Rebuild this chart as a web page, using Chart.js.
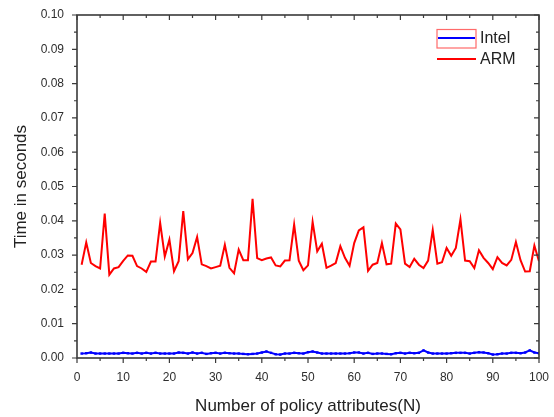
<!DOCTYPE html>
<html>
<head>
<meta charset="utf-8">
<script src="https://cdn.jsdelivr.net/npm/chart.js@4/dist/chart.umd.min.js"></script>
<style>
  html, body { margin: 0; padding: 0; background: #ffffff; }
  #wrap { width: 554px; height: 417px; }
</style>
</head>
<body>
<div id="wrap"><canvas id="c" width="554" height="417"></canvas></div>
<script>
// ---- data ----
const attributes = Array.from({ length: 100 }, (_, i) => i + 1); // N = 1..100
const intelTimes = [
  0.0013, 0.0014, 0.0016, 0.0013, 0.0013, 0.0013, 0.0013, 0.0013, 0.0013, 0.0015,
  0.0014, 0.0013, 0.0015, 0.0013, 0.0015, 0.0013, 0.0015, 0.0013, 0.0013, 0.0013,
  0.0013, 0.0016, 0.0015, 0.0013, 0.0016, 0.0013, 0.0015, 0.0012, 0.0014, 0.0015,
  0.0013, 0.0015, 0.0014, 0.0013, 0.0013, 0.0012, 0.0011, 0.0012, 0.0013, 0.0016,
  0.0019, 0.0015, 0.0011, 0.0010, 0.0013, 0.0013, 0.0015, 0.0014, 0.0013, 0.0017,
  0.0019, 0.0016, 0.0013, 0.0013, 0.0013, 0.0013, 0.0013, 0.0013, 0.0014, 0.0016,
  0.0016, 0.0013, 0.0015, 0.0012, 0.0013, 0.0013, 0.0012, 0.0011, 0.0014, 0.0015,
  0.0013, 0.0015, 0.0014, 0.0015, 0.0022, 0.0016, 0.0013, 0.0013, 0.0013, 0.0013,
  0.0014, 0.0015, 0.0015, 0.0015, 0.0013, 0.0015, 0.0017, 0.0016, 0.0014, 0.0010,
  0.0011, 0.0013, 0.0013, 0.0015, 0.0015, 0.0014, 0.0016, 0.0022, 0.0016, 0.0014
];
const armTimes = [
  0.0272, 0.0337, 0.0277, 0.0268, 0.0261, 0.0421, 0.0243, 0.0261, 0.0265, 0.0283,
  0.0299, 0.0298, 0.0268, 0.0261, 0.0251, 0.0281, 0.0281, 0.0394, 0.0296, 0.0345,
  0.0253, 0.0282, 0.0428, 0.0288, 0.0306, 0.0353, 0.0273, 0.0268, 0.0261, 0.0265,
  0.0269, 0.0330, 0.0263, 0.0247, 0.0316, 0.0285, 0.0285, 0.0464, 0.0291, 0.0285,
  0.0290, 0.0293, 0.0270, 0.0267, 0.0284, 0.0285, 0.0389, 0.0284, 0.0256, 0.0270,
  0.0397, 0.0311, 0.0333, 0.0263, 0.0269, 0.0277, 0.0326, 0.0292, 0.0269, 0.0335,
  0.0372, 0.0381, 0.0254, 0.0272, 0.0277, 0.0335, 0.0273, 0.0275, 0.0392, 0.0375,
  0.0275, 0.0265, 0.0289, 0.0272, 0.0262, 0.0284, 0.0373, 0.0275, 0.0279, 0.0321,
  0.0298, 0.0321, 0.0404, 0.0284, 0.0282, 0.0262, 0.0314, 0.0292, 0.0277, 0.0259,
  0.0294, 0.0277, 0.0270, 0.0286, 0.0338, 0.0285, 0.0252, 0.0253, 0.0328, 0.0282
];
const seriesNames = ['Intel', 'ARM'];
const xTickValues = [0, 10, 20, 30, 40, 50, 60, 70, 80, 90, 100];
const yTickValues = [0.00, 0.01, 0.02, 0.03, 0.04, 0.05, 0.06, 0.07, 0.08, 0.09, 0.10];
const xTitle = 'Number of policy attributes(N)';
const yTitle = 'Time in seconds';

// ---- styling ----
const FONT = "'Liberation Sans', Arial, sans-serif";
const AXIS_COLOR = '#3a3a3a';
const TEXT_COLOR = '#2e2e2e';

const toPoints = (vals) => vals.map((v, i) => ({ x: attributes[i], y: v }));

// frame, tick marks and legend drawn with the library's scales
const framePlugin = {
  id: 'frame',
  afterDraw(chart) {
    const { ctx, chartArea: a, scales } = chart;
    const xs = scales.x, ys = scales.y;
    ctx.save();
    ctx.strokeStyle = AXIS_COLOR;
    ctx.lineWidth = 1.6;
    ctx.strokeRect(a.left, a.top, a.right - a.left, a.bottom - a.top);
    ctx.lineWidth = 1.2;
    ctx.beginPath();
    for (let i = 0; i < xTickValues.length; i++) {
      const v = xTickValues[i];
      const px = xs.getPixelForValue(v);
      ctx.moveTo(px, a.bottom); ctx.lineTo(px, a.bottom + 5);
      ctx.moveTo(px, a.top); ctx.lineTo(px, a.top + 5);
      if (i < xTickValues.length - 1) {
        const m = xs.getPixelForValue((v + xTickValues[i + 1]) / 2);
        ctx.moveTo(m, a.bottom); ctx.lineTo(m, a.bottom + 3);
        ctx.moveTo(m, a.top); ctx.lineTo(m, a.top + 3);
      }
    }
    for (let i = 0; i < yTickValues.length; i++) {
      const v = yTickValues[i];
      const py = ys.getPixelForValue(v);
      ctx.moveTo(a.left, py); ctx.lineTo(a.left - 5, py);
      ctx.moveTo(a.right, py); ctx.lineTo(a.right - 5, py);
      if (i < yTickValues.length - 1) {
        const m = ys.getPixelForValue((v + yTickValues[i + 1]) / 2);
        ctx.moveTo(a.left, m); ctx.lineTo(a.left - 3, m);
        ctx.moveTo(a.right, m); ctx.lineTo(a.right - 3, m);
      }
    }
    ctx.stroke();

    // legend (Origin style)
    const lx0 = 437, lx1 = 476;
    ctx.strokeStyle = '#ff6a6a';
    ctx.lineWidth = 1.2;
    ctx.strokeRect(lx0, 29.5, lx1 - lx0, 18.5);
    ctx.strokeStyle = '#0000ff';
    ctx.lineWidth = 2;
    ctx.beginPath(); ctx.moveTo(lx0 + 1, 38); ctx.lineTo(lx1 - 1, 38); ctx.stroke();
    ctx.strokeStyle = '#ff0000';
    ctx.beginPath(); ctx.moveTo(lx0, 59); ctx.lineTo(lx1, 59); ctx.stroke();
    ctx.fillStyle = '#222222';
    ctx.font = '16px ' + FONT;
    ctx.textBaseline = 'middle';
    ctx.textAlign = 'left';
    ctx.fillText(seriesNames[0], 480, 38.5);
    ctx.fillText(seriesNames[1], 480, 60);
    ctx.restore();
  }
};

new Chart(document.getElementById('c'), {
  type: 'line',
  data: {
    datasets: [
      {
        label: seriesNames[0],
        data: toPoints(intelTimes),
        borderColor: '#0000ff',
        backgroundColor: '#0000ff',
        borderWidth: 2,
        pointStyle: 'rect',
        pointRadius: 1.7,
        pointBorderWidth: 0,
        tension: 0
      },
      {
        label: seriesNames[1],
        data: toPoints(armTimes),
        borderColor: '#ff0000',
        backgroundColor: '#ff0000',
        borderWidth: 2,
        pointRadius: 0,
        tension: 0
      }
    ]
  },
  options: {
    responsive: false,
    animation: false,
    devicePixelRatio: 1,
    layout: { padding: { left: 0, right: 15, top: 15, bottom: 0 } },
    plugins: { legend: { display: false }, tooltip: { enabled: false } },
    scales: {
      x: {
        type: 'linear',
        min: 0, max: 100,
        afterFit: (s) => { s.height = 59; s.paddingLeft = 0; s.paddingRight = 0; },
        afterBuildTicks: (s) => { s.ticks = xTickValues.map(v => ({ value: v })); },
        grid: { display: false, drawTicks: false },
        border: { display: false },
        ticks: {
          color: TEXT_COLOR,
          font: { family: FONT, size: 12 },
          padding: 12,
          maxRotation: 0,
          autoSkip: false,
          callback: (v) => String(v)
        },
        title: {
          display: true,
          text: xTitle,
          color: '#222222',
          font: { family: FONT, size: 17 },
          padding: { top: 2, bottom: 0 }
        }
      },
      y: {
        type: 'linear',
        min: 0, max: 0.1,
        afterFit: (s) => { s.width = 77; s.paddingTop = 0; s.paddingBottom = 0; },
        afterBuildTicks: (s) => { s.ticks = yTickValues.map(v => ({ value: v })); },
        grid: { display: false, drawTicks: false },
        border: { display: false },
        ticks: {
          color: TEXT_COLOR,
          font: { family: FONT, size: 12 },
          padding: 13,
          autoSkip: false,
          callback: (v) => Number(v).toFixed(2)
        },
        title: {
          display: true,
          text: yTitle,
          color: '#222222',
          font: { family: FONT, size: 17 },
          padding: { top: 11, bottom: 0 }
        }
      }
    }
  },
  plugins: [framePlugin]
});
</script>
</body>
</html>
